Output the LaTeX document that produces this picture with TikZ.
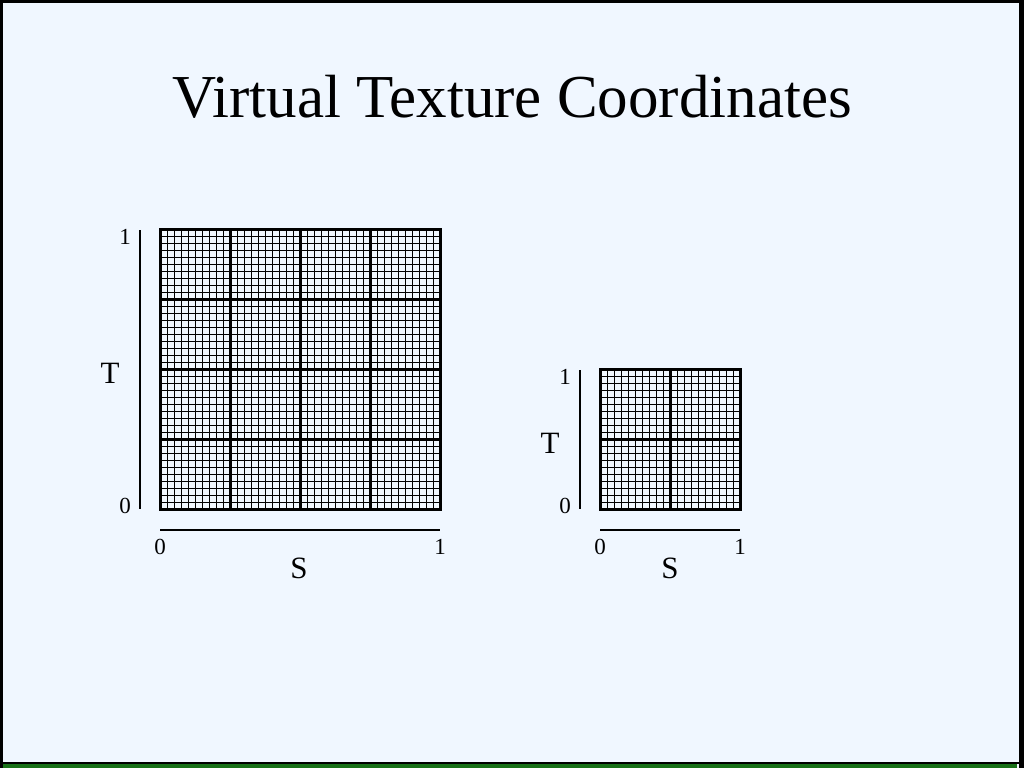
\documentclass[tikz,border=0pt]{standalone}
\usepackage{fontspec}
\setmainfont{Liberation Serif}
\definecolor{bgblue}{RGB}{240,247,255}
\definecolor{bargreen}{RGB}{24,112,24}
\begin{document}
\begin{tikzpicture}[x=1pt,y=-1pt,
  fine/.style={line width=0.9pt},
  coarse/.style={line width=3pt},
  axisline/.style={line width=2pt},
  tick/.style={font=\fontsize{23}{23}\selectfont,inner sep=0pt},
  axlabel/.style={font=\fontsize{31}{31}\selectfont,inner sep=0pt}]
\useasboundingbox (0,0) rectangle (1024,768);
% background and frame
\fill[bgblue] (0,0) rectangle (1024,768);
\fill[black] (0,0) rectangle (3,768);
\fill[black] (0,0) rectangle (1024,3);
\fill[black] (1019,0) rectangle (1024,768);
\fill[black] (0,762) rectangle (1024,764);
\fill[bargreen] (3,764) rectangle (1017,768);
% title
\node[font=\fontsize{61}{61}\selectfont,inner sep=0pt] (title) at (512,97) {Virtual Texture Coordinates};
% big grid
\foreach \i in {0,...,40} {
  \draw[fine] (160+7*\i,229) -- (160+7*\i,509);
  \draw[fine] (160,229+7*\i) -- (440,229+7*\i);
}
\foreach \i in {0,...,4} {
  \draw[coarse] (160+70*\i,229) -- (160+70*\i,509);
  \draw[coarse] (160,229+70*\i) -- (440,229+70*\i);
}
\draw[coarse,line cap=rect] (160,229) rectangle (440,509);
% big axes
\coordinate (bt0) at (140,230);
\coordinate (bt1) at (140,509);
\coordinate (bs0) at (160,530);
\coordinate (bs1) at (440,530);
\draw[axisline] (bt0) -- (bt1);
\draw[axisline] (bs0) -- (bs1);
\node[tick] (bT1) at (125,237) {1};
\node[tick] (bT0) at (125,506) {0};
\node[axlabel] (bT) at (110,373) {T};
\node[tick] (bS0) at (160,547) {0};
\node[tick] (bS1) at (440,547) {1};
\node[axlabel] (bS) at (299,568) {S};
% small grid
\foreach \i in {0,...,20} {
  \draw[fine] (600+7*\i,369) -- (600+7*\i,509);
  \draw[fine] (600,369+7*\i) -- (740,369+7*\i);
}
\foreach \i in {0,...,2} {
  \draw[coarse] (600+70*\i,369) -- (600+70*\i,509);
  \draw[coarse] (600,369+70*\i) -- (740,369+70*\i);
}
\draw[coarse,line cap=rect] (600,369) rectangle (740,509);
% small axes
\coordinate (st0) at (580,370);
\coordinate (st1) at (580,509);
\coordinate (ss0) at (600,530);
\coordinate (ss1) at (740,530);
\draw[axisline] (st0) -- (st1);
\draw[axisline] (ss0) -- (ss1);
\node[tick] (sT1) at (565,377) {1};
\node[tick] (sT0) at (565,506) {0};
\node[axlabel] (sT) at (550,443) {T};
\node[tick] (sS0) at (600,547) {0};
\node[tick] (sS1) at (740,547) {1};
\node[axlabel] (sS) at (670,568) {S};
\end{tikzpicture}
\end{document}
